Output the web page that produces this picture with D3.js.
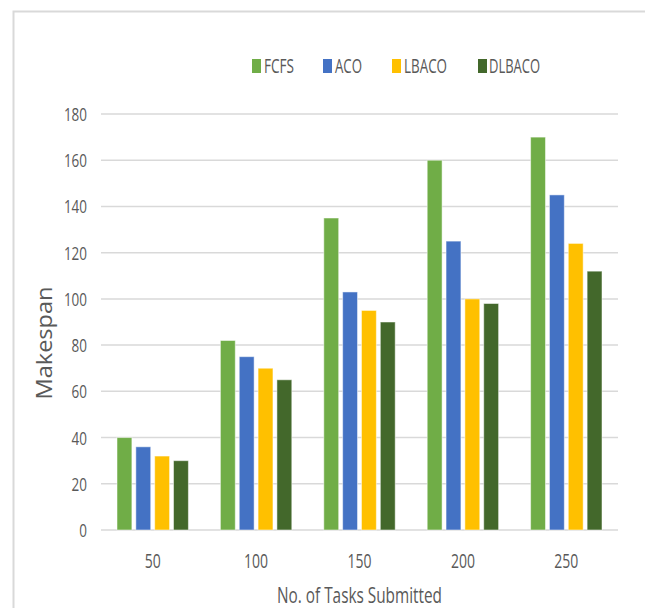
<!DOCTYPE html>
<html>
<head>
<meta charset="utf-8">
<script src="https://cdn.jsdelivr.net/npm/d3@7"></script>
<style>
  html, body { margin: 0; padding: 0; background: #ffffff; }
  svg { display: block; }
  text { font-family: "Open Sans", "Noto Sans", sans-serif; fill: #595959; }
</style>
</head>
<body>
<svg id="chart" width="645" height="608"></svg>
<script>
// Makespan per scheduling algorithm for each task count
const categories = ["50", "100", "150", "200", "250"];
const seriesNames = ["FCFS", "ACO", "LBACO", "DLBACO"];
const seriesColors = ["#70ad47", "#4472c4", "#ffc000", "#43682b"];
const fcfs   = [40, 82, 135, 160, 170];
const aco    = [36, 75, 103, 125, 145];
const lbaco  = [32, 70, 95, 100, 124];
const dlbaco = [30, 65, 90, 98, 112];
const yTicks = [0, 20, 40, 60, 80, 100, 120, 140, 160, 180];
const xTitle = "No. of Tasks Submitted";
const yTitle = "Makespan";

const seriesValues = [fcfs, aco, lbaco, dlbaco];
const rows = categories.map((c, i) => ({
  cat: c,
  vals: seriesNames.map((s, j) => ({ key: s, value: seriesValues[j][i] }))
}));

const svg = d3.select("#chart");
const plot = { left: 101, right: 618, top: 114, bottom: 530 };

// frame
svg.append("path")
  .attr("d", `M13.5,608 L13.5,11.5 L645,11.5`)
  .attr("fill", "none")
  .attr("stroke", "#d9d9d9")
  .attr("stroke-width", 2);

const x = d3.scaleBand().domain(categories).range([plot.left, plot.right]);
const x1 = d3.scaleBand().domain(seriesNames)
  .range([16, x.bandwidth() - 16]).paddingInner(0.21);
const y = d3.scaleLinear().domain([0, 180]).range([plot.bottom, plot.top]);

// horizontal gridlines
svg.append("g")
  .selectAll("line")
  .data(yTicks)
  .join("line")
  .attr("x1", plot.left).attr("x2", plot.right)
  .attr("y1", d => y(d)).attr("y2", d => y(d))
  .attr("stroke", "#d9d9d9")
  .attr("stroke-width", 1.5);

// bars
svg.append("g")
  .selectAll("g")
  .data(rows)
  .join("g")
  .attr("transform", d => `translate(${x(d.cat)},0)`)
  .selectAll("rect")
  .data(d => d.vals)
  .join("rect")
  .attr("x", d => x1(d.key))
  .attr("width", x1.bandwidth())
  .attr("y", d => y(d.value))
  .attr("height", d => y(0) - y(d.value))
  .attr("fill", (d, i) => seriesColors[i])
  .attr("stroke", "#ffffff")
  .attr("stroke-opacity", 0.5)
  .attr("stroke-width", 1);

// y axis labels
const yAxis = svg.append("g")
  .attr("transform", `translate(${plot.left - 14},0)`)
  .call(d3.axisLeft(y).tickValues(yTicks).tickSize(0).tickPadding(0));
yAxis.select(".domain").remove();
yAxis.selectAll("text")
  .style("font-size", "18px")
  .attr("dy", "0.36em")
  .attr("textLength", d => String(d).length * 7.7)
  .attr("lengthAdjust", "spacingAndGlyphs");

// x axis labels
const xAxis = svg.append("g")
  .attr("transform", `translate(0,${plot.bottom})`)
  .call(d3.axisBottom(x).tickSize(0).tickPadding(24));
xAxis.select(".domain").remove();
xAxis.selectAll("text")
  .style("font-size", "20px")
  .attr("dy", "0.71em")
  .attr("textLength", d => d.length * 8)
  .attr("lengthAdjust", "spacingAndGlyphs");

// axis titles
svg.append("text")
  .attr("x", (plot.left + plot.right) / 2 + 0)
  .attr("y", 603)
  .attr("text-anchor", "middle")
  .style("font-size", "22px")
  .attr("textLength", 165)
  .attr("lengthAdjust", "spacingAndGlyphs")
  .text(xTitle);

svg.append("text")
  .attr("transform", "translate(52,343) rotate(-90)")
  .attr("text-anchor", "middle")
  .style("font-size", "21px")
  .attr("textLength", 113)
  .attr("lengthAdjust", "spacingAndGlyphs")
  .text(yTitle);

// legend
const legendX = [252, 323, 392, 478];
const legendW = [30, 27, 43, 51];
const legend = svg.append("g")
  .selectAll("g")
  .data(seriesNames)
  .join("g")
  .attr("transform", (d, i) => `translate(${legendX[i]},59)`);
legend.append("rect")
  .attr("width", 9).attr("height", 14)
  .attr("fill", (d, i) => seriesColors[i]);
legend.append("text")
  .attr("x", (d, i) => i === 3 ? 11 : 12)
  .attr("y", 14)
  .style("font-size", "20px")
  .attr("textLength", (d, i) => legendW[i])
  .attr("lengthAdjust", "spacingAndGlyphs")
  .text(d => d);
</script>
</body>
</html>
